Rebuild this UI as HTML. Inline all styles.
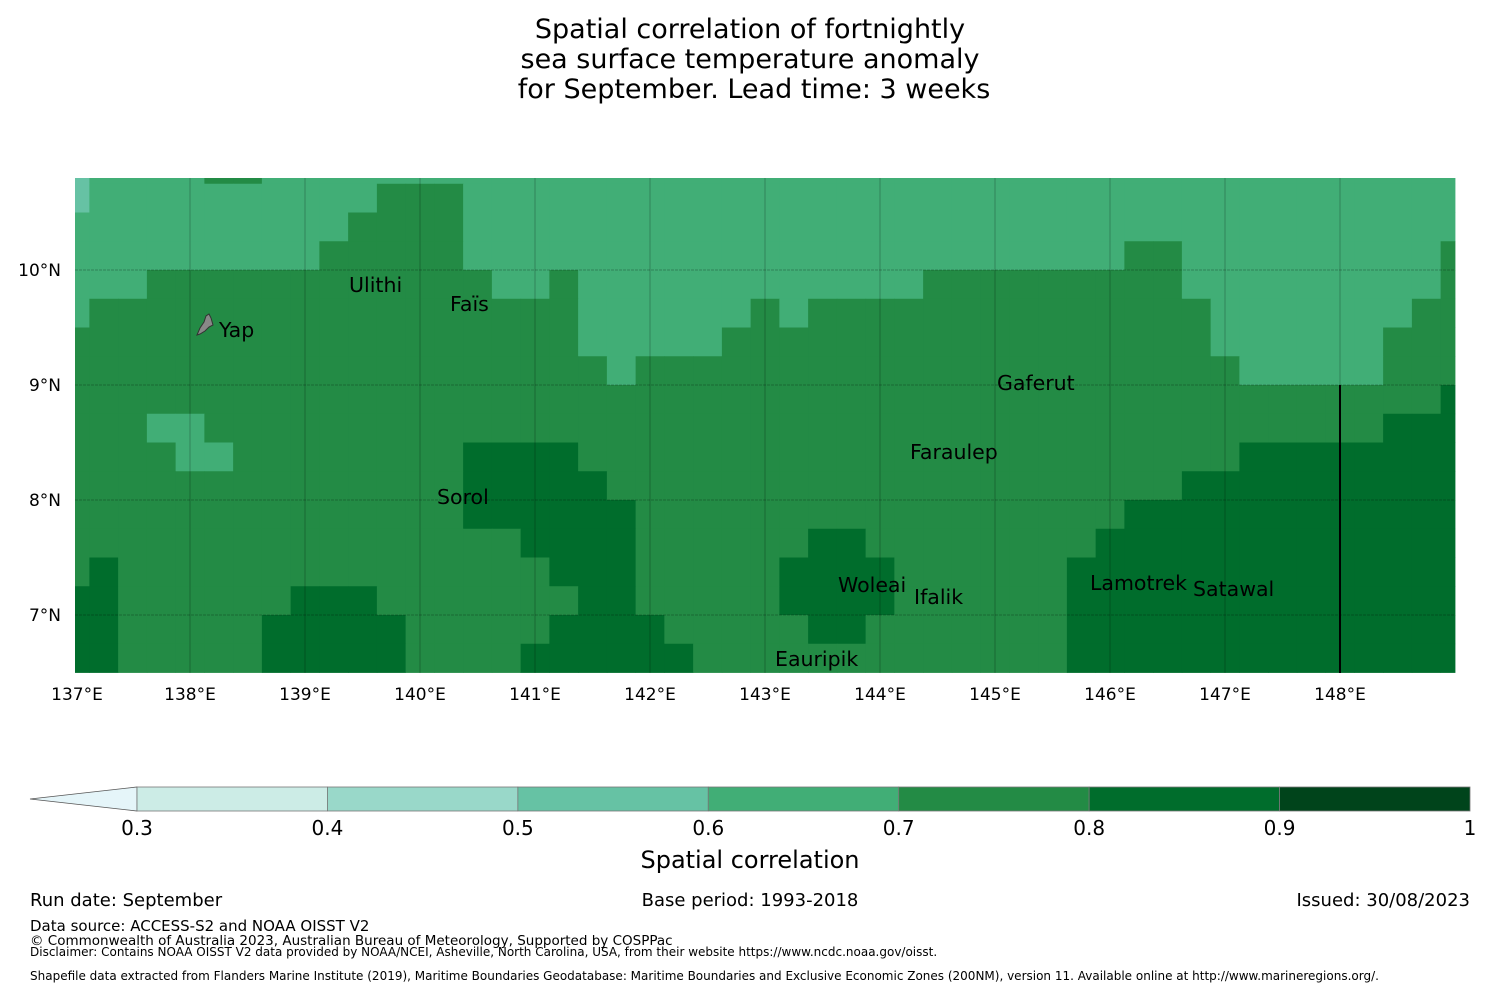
<!DOCTYPE html>
<html><head><meta charset="utf-8"><style>
html,body{margin:0;padding:0;background:#fff;}
svg{display:block;font-family:"DejaVu Sans","Liberation Sans",sans-serif;}
</style></head><body>
<svg id="chart" width="1500" height="990" viewBox="0 0 1500 990" xmlns="http://www.w3.org/2000/svg">
<g font-size="27" text-anchor="middle" fill="#000">
<text x="750" y="38">Spatial correlation of fortnightly</text>
<text x="750" y="68">sea surface temperature anomaly</text>
<text x="754" y="98">for September. Lead time: 3 weeks</text>
</g>
<g id="cells"></g>
<g id="grid"></g>
<line x1="1340" y1="385" x2="1340" y2="673" stroke="#000" stroke-width="2"/>
<g id="ticks" font-size="17" fill="#000"></g>
<path d="M197,335 L200,328 L204,322 L206,316 L209,314 L211,318 L213,325 L209,327 L205,331 L200,334 Z" fill="#888" stroke="#333" stroke-width="1"/>
<g id="islands" font-size="20.5" fill="#000"></g>
<g id="cbar"></g>
<text x="750" y="868" font-size="24" text-anchor="middle">Spatial correlation</text>
<g fill="#000">
<text x="30" y="906" font-size="18">Run date: September</text>
<text x="750" y="906" font-size="18" text-anchor="middle">Base period: 1993-2018</text>
<text x="1470" y="906" font-size="18" text-anchor="end">Issued: 30/08/2023</text>
<text x="30" y="931" font-size="15">Data source: ACCESS-S2 and NOAA OISST V2</text>
<text x="30" y="945" font-size="13.5">© Commonwealth of Australia 2023, Australian Bureau of Meteorology, Supported by COSPPac</text>
<text x="30" y="956" font-size="12">Disclaimer: Contains NOAA OISST V2 data provided by NOAA/NCEI, Asheville, North Carolina, USA, from their website https://www.ncdc.noaa.gov/oisst.</text>
<text x="30" y="980" font-size="12">Shapefile data extracted from Flanders Marine Institute (2019), Maritime Boundaries Geodatabase: Maritime Boundaries and Exclusive Economic Zones (200NM), version 11. Available online at http://www.marineregions.org/.</text>
</g>
</svg>
<script>
// grid cell values, run-length encoded per row (code + count); rows from north to south
const codeValues = {a:0.55, b:0.65, c:0.75, d:0.85};
const rowRuns = [
"a1 b4 c2 b42",
"a1 b10 c3 b35",
"b10 c4 b35",
"b9 c5 b23 c2 b9 c1",
"b3 c12 b2 c1 b12 c9 b9 c1",
"b1 c17 b6 c1 b1 c14 b7 c2",
"c18 b5 c17 b6 c3",
"c19 b1 c21 b5 c3",
"c48 d1",
"c3 b2 c41 d3",
"c4 b2 c8 d4 c23 d8",
"c14 d5 c20 d10",
"c14 d6 c17 d12",
"c16 d4 c6 d2 c8 d13",
"c1 d1 c15 d3 c5 d4 c6 d14",
"d2 c6 d3 c7 d2 c5 d4 c6 d14",
"d2 c5 d5 c5 d4 c5 d2 c7 d14",
"d2 c5 d5 c4 d6 c13 d14"
];
const lonStart = 137, latTopCenter = 10.875, cellDeg = 0.25;
const lonTicks = [137,138,139,140,141,142,143,144,145,146,147,148];
const latTicks = [10,9,8,7];
const cbarBounds = [0.3,0.4,0.5,0.6,0.7,0.8,0.9,1.0];
const cbarLabels = ["0.3","0.4","0.5","0.6","0.7","0.8","0.9","1"];
const cbarColors = ["#ccece6","#99d8c9","#66c2a4","#41ae76","#238b45","#006d2c","#00441b"];
const islandNames = ["Ulithi","Faïs","Yap","Gaferut","Faraulep","Sorol","Woleai","Ifalik","Lamotrek","Satawal","Eauripik"];
const islandLon = [139.383,140.261,138.252,145.017,144.261,140.148,143.635,144.296,145.826,146.722,143.087];
const islandLat = [9.809,9.643,9.417,8.957,8.357,7.965,7.2,7.096,7.217,7.165,6.557];

const MX0=75, MX1=1455, MY0=178, MY1=673, PPD=115;
const LON_MIN=137, LON_MAX=149, LAT_MIN=6.5, LAT_MAX=10.8;
function xs(lon){return MX0+(lon-LON_MIN)*PPD;}
function ys(lat){return 270-(lat-10)*PPD;}
function colorFor(v){for(let i=0;i<cbarColors.length;i++){if(v>=cbarBounds[i]&&v<cbarBounds[i+1])return cbarColors[i];}return v<0.3?"#e5f5f9":"#00441b";}
const NS="http://www.w3.org/2000/svg";
function mk(tag,attrs,parent){const e=document.createElementNS(NS,tag);for(const k in attrs)e.setAttribute(k,attrs[k]);parent.appendChild(e);return e;}

const cells=document.getElementById('cells');
rowRuns.forEach((row,r)=>{
  const vals=[];
  row.split(' ').forEach(t=>{const v=codeValues[t[0]];const n=parseInt(t.slice(1));for(let i=0;i<n;i++)vals.push(v);});
  const latC=latTopCenter-cellDeg*r;
  vals.forEach((v,k)=>{
    const lonC=lonStart+cellDeg*k;
    const l0=Math.max(LON_MIN,lonC-cellDeg/2), l1=Math.min(LON_MAX,lonC+cellDeg/2);
    const a0=Math.max(LAT_MIN,latC-cellDeg/2), a1=Math.min(LAT_MAX,latC+cellDeg/2);
    if(l1<=l0||a1<=a0)return;
    const x0=xs(l0),x1=xs(l1),y0=ys(a1),y1=ys(a0);
    const rc=mk('rect',{x:x0,y:y0,width:x1-x0+0.4,height:y1-y0+0.4,fill:colorFor(v)},cells);
    
    
  });
});

const grid=document.getElementById('grid'), ticks=document.getElementById('ticks');
lonTicks.forEach(lon=>{
  const x=xs(lon);
  if(lon>LON_MIN){const ln=mk('line',{x1:x,y1:MY0,x2:x,y2:MY1,stroke:'rgba(0,0,0,0.2)','stroke-width':1.2},grid);
  
  }
  const t=mk('text',{x:x+(lon===137?2:0),y:700,'text-anchor':'middle'},ticks);
  t.textContent=lon+'°E';
  
  
});
latTicks.forEach(lat=>{
  const y=ys(lat);
  const ln=mk('line',{x1:MX0,y1:y,x2:MX1,y2:y,stroke:'rgba(0,0,0,0.25)','stroke-width':1,'stroke-dasharray':'3,1'},grid);
  
  
  const t=mk('text',{x:61,y:y+6,'text-anchor':'end'},ticks);
  t.textContent=lat+'°N';
  
  
});

const isl=document.getElementById('islands');
islandNames.forEach((n,i)=>{
  const x=xs(islandLon[i]), y=ys(islandLat[i]);
  const t=mk('text',{x:x,y:y},isl);
  t.textContent=n;
  
  
});

const cb=document.getElementById('cbar');
const CX0=137, CX1=1470, CY0=787, CY1=811;
function cx(v){return CX0+(v-0.3)/(1.0-0.3)*(CX1-CX0);}
const tri=mk('polygon',{points:`30,799 ${CX0},787 ${CX0},811`,fill:'#e5f5f9',stroke:'#555','stroke-width':0.8},cb);


cbarColors.forEach((c,i)=>{
  const r=mk('rect',{x:cx(cbarBounds[i]),y:CY0,width:cx(cbarBounds[i+1])-cx(cbarBounds[i]),height:CY1-CY0,fill:c,stroke:'#777','stroke-width':0.8},cb);
  
  
});
cbarLabels.forEach((l,i)=>{
  const t=mk('text',{x:cx(cbarBounds[i]),y:835,'font-size':20,'text-anchor':'middle'},cb);
  t.textContent=l;
  
  
});
</script>
</body></html>
